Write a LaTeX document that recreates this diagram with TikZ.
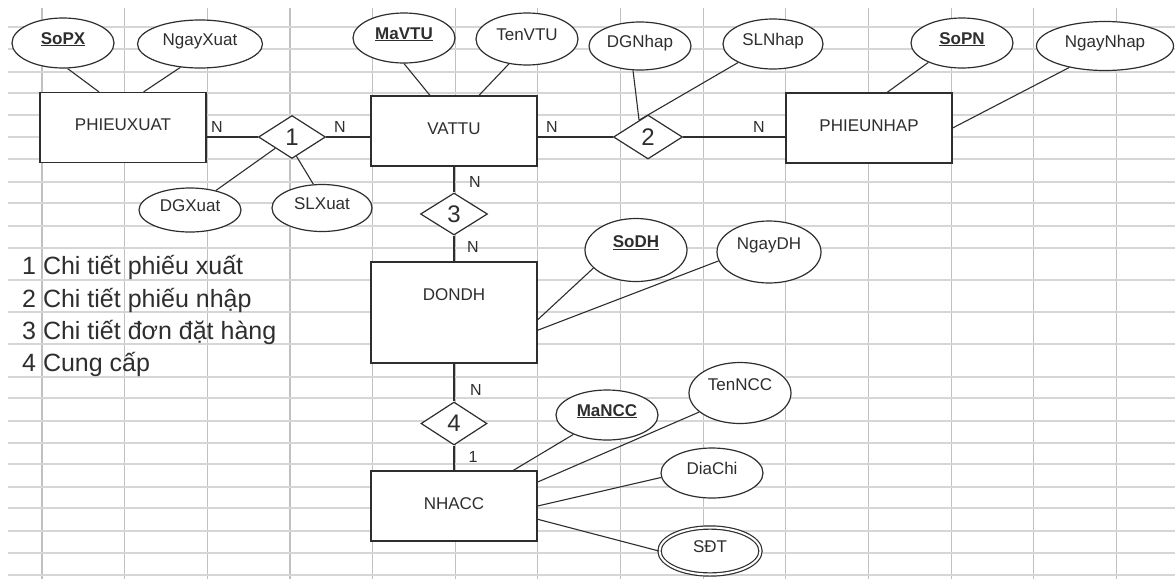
\documentclass[tikz,border=0pt]{standalone}
\usepackage{fontspec}
\setmainfont{Liberation Sans}
\usepackage{tikz}
\usetikzlibrary{shapes.geometric}

\definecolor{ink}{HTML}{2E2E2E}
\definecolor{gridv}{HTML}{C0C0C0}
\definecolor{gridh}{HTML}{D6D6D6}

\begin{document}
\begin{tikzpicture}[x=1pt,y=-1pt,
  every text node part/.style={align=center},
  entity/.style={rectangle,draw=ink,fill=white,line width=1.2pt,text=ink,
    minimum width=166pt,minimum height=70pt,inner sep=0pt,
    font=\fontsize{17}{20}\selectfont,text height=12pt,text depth=6pt},
  attr/.style={ellipse,draw=ink,fill=white,line width=1.2pt,text=ink,
    minimum width=102pt,minimum height=50pt,inner sep=0pt,
    font=\fontsize{17}{20}\selectfont,text height=12pt,text depth=10pt},
  key/.style={attr,font=\fontsize{17}{20}\selectfont\bfseries},
  rel/.style={diamond,draw=ink,fill=white,line width=1.2pt,text=ink,
    minimum width=67pt,minimum height=43pt,inner sep=0pt,
    font=\fontsize{24}{28}\selectfont},
  card/.style={inner sep=0pt,text=ink,font=\fontsize{16}{18}\selectfont},
  legend/.style={inner sep=0pt,text=ink,anchor=base west,font=\fontsize{25}{30}\selectfont},
  link/.style={draw=ink,line width=1.1pt}]
  \fill[white] (0,0) rectangle (1175,579);
  \useasboundingbox (0,0) rectangle (1175,579);

  % sheet grid
  \foreach \i in {0,...,13}
    \draw[gridv,line width=1.1pt] ({42+82.65*\i},8) -- ({42+82.65*\i},579);
  \foreach \gy in {27,49,72,93,115,137,159,182,203,226,248,280,312,344,377,398,421,443,464,487,508,531,553,575}
    \draw[gridh,line width=1.4pt] (8,\gy) -- (1175,\gy);

  % entities
  \node[entity] (px) at (123,127.5) {PHIEUXUAT};
  \node[entity] (vt) at (454,131) {VATTU};
  \node[entity] (pn) at (869,128) {PHIEUNHAP};
  \node[entity,minimum height=101pt,text depth=37pt] (dh) at (454,312.5) {DONDH};
  \node[entity] (nc) at (454,506) {NHACC};

  % relationships
  \node[rel] (r1) at (292,137) {1};
  \node[rel,minimum width=69pt,minimum height=44pt] (r2) at (648,137) {2};
  \node[rel,minimum height=42pt] (r3) at (454,214) {3};
  \node[rel,minimum width=66pt] (r4) at (454,423.5) {4};

  % attributes
  \node[key] (sopx) at (63,43) {\underline{SoPX}};
  \node[attr,minimum width=125pt,minimum height=48pt] (ngayxuat) at (200,44) {NgayXuat};
  \node[attr,minimum height=44pt] (dgxuat) at (190,210) {DGXuat};
  \node[attr,minimum width=100pt,minimum height=47pt] (slxuat) at (322,208) {SLXuat};
  \node[key] (mavtu) at (404,38) {\underline{MaVTU}};
  \node[attr,minimum height=52pt] (tenvtu) at (527,39) {TenVTU};
  \node[attr,minimum height=48pt] (dgnhap) at (640,46) {DGNhap};
  \node[attr,minimum width=100pt] (slnhap) at (773,44) {SLNhap};
  \node[key] (sopn) at (962,43) {\underline{SoPN}};
  \node[attr,minimum width=137pt,minimum height=49pt] (ngaynhap) at (1105,46) {NgayNhap};
  \node[key,minimum height=63pt,text depth=17pt] (sodh) at (636,250) {\underline{SoDH}};
  \node[attr,minimum width=104pt,minimum height=62pt,text depth=17pt] (ngaydh) at (769,252) {NgayDH};
  \node[key] (mancc) at (607,415) {\underline{MaNCC}};
  \node[attr,minimum height=61pt,text depth=17pt] (tenncc) at (740,393) {TenNCC};
  \node[attr] (diachi) at (712,473) {DiaChi};
  \node[attr,double,double distance=2pt,minimum width=101pt,minimum height=47pt] (sdt) at (710,551) {SĐT};

  % links
  \draw[link] (sopx.-80) -- (px.124);
  \draw[link] (ngayxuat.-130) -- (px.60);
  \draw[link] (r1.west) -- (r1.west -| px.east);
  \draw[link] (r1.east) -- (r1.east -| vt.west);
  \draw[link] (dgxuat.37) -- (r1.-146);
  \draw[link] (slxuat.110) -- (r1.-77);
  \draw[link] (mavtu.south) -- (vt.124);
  \draw[link] (tenvtu.-126) -- (vt.55);
  \draw[link] (r2.west) -- (r2.west -| vt.east);
  \draw[link] (r2.east) -- (r2.east -| pn.west);
  \draw[link] (dgnhap.-106) -- (r2.118);
  \draw[link] (slnhap.-152) -- (r2.118);
  \draw[link] (sopn.-150) -- (pn.63);
  \draw[link] (ngaynhap.-149) -- (pn.east);
  \draw[link] (vt.south) -- (r3.north);
  \draw[link] (r3.south) -- (dh.north);
  \draw[link] (sodh.-157) -- (dh.-5);
  \draw[link] (ngaydh.-170) -- (dh.-12);
  \draw[link] (dh.south) -- (r4.north);
  \draw[link] (r4.south) -- (nc.north);
  \draw[link] (mancc.-150) -- (nc.31);
  \draw[link] (tenncc.-155) -- (nc.16);
  \draw[link] (diachi.-175) -- (nc.east);
  \draw[link] (sdt.west) -- (nc.-9);

  % cardinalities
  \node[card] (c1) at (217,127) {N};
  \node[card] (c2) at (340,127) {N};
  \node[card] (c3) at (552,127) {N};
  \node[card] (c4) at (759,127) {N};
  \node[card] (c5) at (475,182) {N};
  \node[card] (c6) at (473,247) {N};
  \node[card] (c7) at (476,390) {N};
  \node[card] (c8) at (473,457) {1};

  % legend
  \node[legend] (leg1) at (22,274) {1 Chi tiết phiếu xuất};
  \node[legend] (leg2) at (22,307) {2 Chi tiết phiếu nhập};
  \node[legend] (leg3) at (22,339) {3 Chi tiết đơn đặt hàng};
  \node[legend] (leg4) at (22,371) {4 Cung cấp};
\end{tikzpicture}
\end{document}
